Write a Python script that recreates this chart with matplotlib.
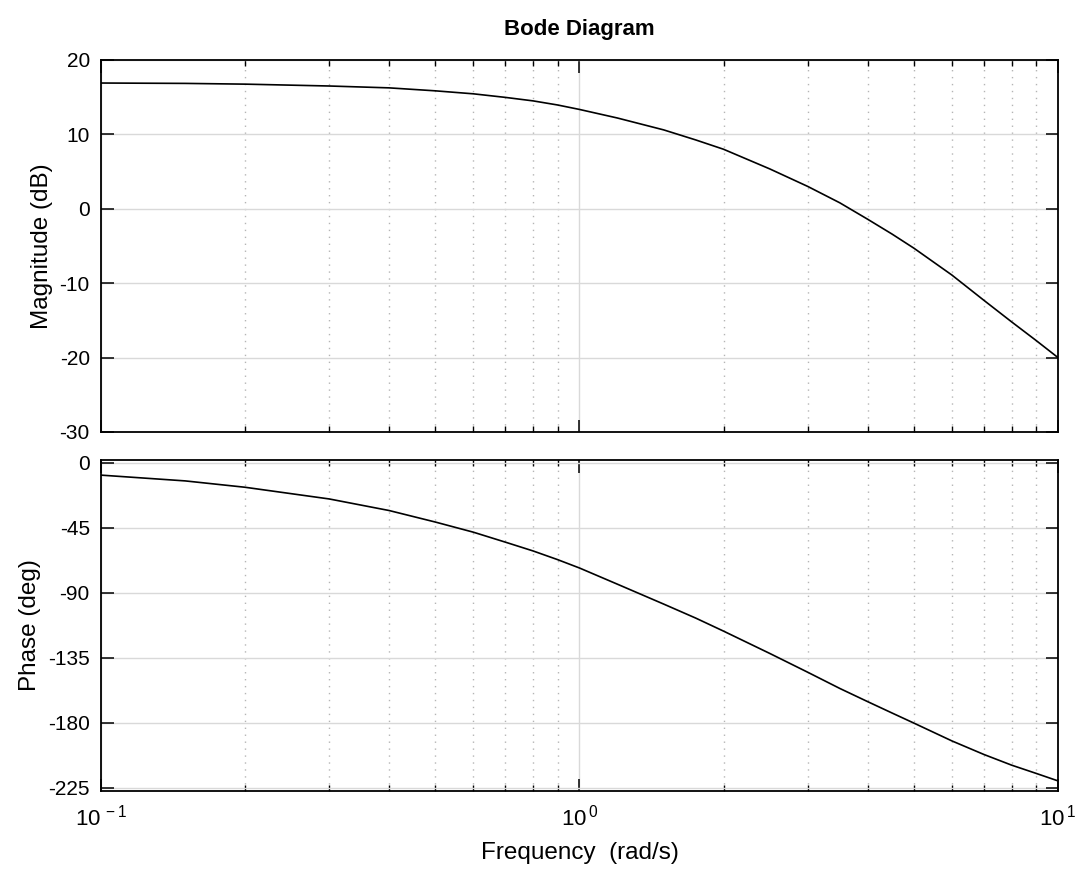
import numpy as np
import matplotlib.pyplot as plt
from matplotlib.ticker import LogLocator, NullFormatter

plt.rcParams['font.family'] = ['Liberation Sans', 'DejaVu Sans']

# values
freq = [0.1, 0.15, 0.2, 0.3, 0.4, 0.5, 0.6, 0.7, 0.8, 0.9, 1.0, 1.2, 1.5, 1.75,
        2.0, 2.5, 3.0, 3.5, 4.0, 4.5, 5.0, 6.0, 7.0, 8.0, 9.0, 10.0]
mag_db = [16.9, 16.85, 16.75, 16.5, 16.25, 15.85, 15.45, 14.97, 14.5, 13.95, 13.35,
          12.2, 10.6, 9.25, 8.0, 5.35, 3.0, 0.8, -1.4, -3.4, -5.3, -8.9, -12.3,
          -15.2, -17.7, -20.0]
phase_deg = [-8.5, -12.5, -16.9, -25.0, -33.0, -41.0, -48.0, -54.9, -61.0, -67.0,
             -72.8, -84.0, -97.8, -107.5, -116.5, -132.0, -145.0, -156.2, -165.3,
             -173.2, -180.2, -192.5, -201.9, -209.3, -215.0, -220.2]
mag_ticks = [20, 10, 0, -10, -20, -30]
phase_ticks = [0, -45, -90, -135, -180, -225]

fig = plt.figure(figsize=(10.81, 8.69), dpi=100)
ax1 = fig.add_axes([0.0934, 0.5029, 0.8853, 0.4281])
ax2 = fig.add_axes([0.0934, 0.0901, 0.8853, 0.3806])

def style(ax):
    ax.set_xscale('log')
    ax.set_xlim(0.1, 10)
    ax.xaxis.set_minor_locator(LogLocator(base=10, subs=np.arange(2, 10)))
    ax.xaxis.set_minor_formatter(NullFormatter())
    ax.grid(True, which='major', color='#d9d9d9', linestyle='-', linewidth=1.0)
    ax.grid(True, which='minor', axis='x', color='#b5b5b5', linestyle=(0, (1, 4)), linewidth=1.0)
    ax.set_axisbelow(True)
    ax.tick_params(which='major', direction='in', length=9, width=1.1,
                   top=True, right=True, labelsize=15, pad=8)
    ax.tick_params(which='minor', direction='in', length=4.5, width=1.0,
                   top=True, right=True)
    for s in ax.spines.values():
        s.set_linewidth(1.3)

ax1.plot(freq, mag_db, color='black', linewidth=1.2)
style(ax1)
ax1.set_ylim(-30, 20)
ax1.set_yticks(mag_ticks)
ax1.set_yticklabels([str(t) for t in mag_ticks])
ax1.tick_params(axis='x', labelbottom=False)
ax1.set_ylabel('Magnitude (dB)', fontsize=17.5, labelpad=5)
ax1.set_title('Bode Diagram', fontsize=16, fontweight='bold', pad=18)

ax2.plot(freq, phase_deg, color='black', linewidth=1.2)
style(ax2)
ax2.set_ylim(-227, 2)
ax2.set_yticks(phase_ticks)
ax2.set_yticklabels([str(t) for t in phase_ticks])
ax2.set_xticks([0.1, 1, 10])
ax2.set_xticklabels([r'$\mathregular{10^{\,-1}}$', r'$\mathregular{10^{\,0}}$',
                     r'$\mathregular{10^{\,1}}$'], fontsize=16)
ax2.tick_params(axis='x', pad=10)
ax2.set_ylabel('Phase (deg)', fontsize=17.5, labelpad=5)
ax2.set_xlabel('Frequency  (rad/s)', fontsize=17.5, labelpad=8)

fig.savefig('out.png', dpi=100)
